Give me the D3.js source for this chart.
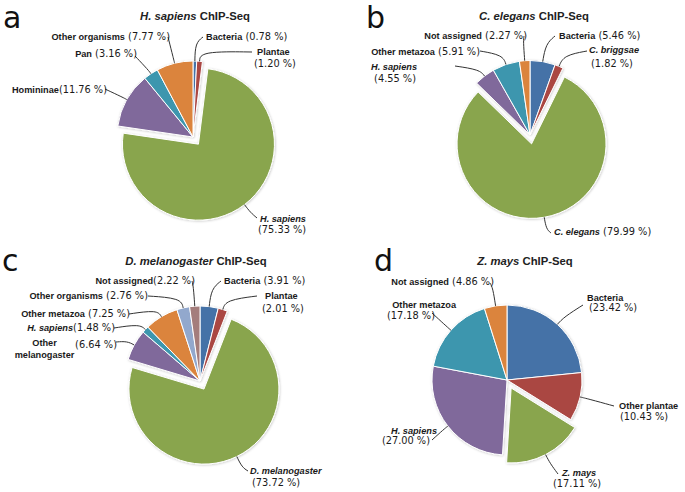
<!DOCTYPE html>
<html><head><meta charset="utf-8">
<script src="https://cdn.jsdelivr.net/npm/d3@7"></script>
<style>body{margin:0;background:#fff} svg{display:block}</style>
</head><body>
<svg id="chart" width="685" height="492"></svg>
<script>
// ---------------- data ----------------
const panelLetters = ["a", "b", "c", "d"];
const titleSpecies = ["H. sapiens", "C. elegans", "D. melanogaster", "Z. mays"];
const titleSuffix = " ChIP-Seq";

const categoriesA = ["Bacteria", "Plantae", "H. sapiens", "Homininae", "Pan", "Other organisms"];
const valuesA = [0.78, 1.20, 75.33, 11.76, 3.16, 7.77];
const italicA = [false, false, true, false, false, false];

const categoriesB = ["Bacteria", "C. briggsae", "C. elegans", "H. sapiens", "Other metazoa", "Not assigned"];
const valuesB = [5.46, 1.82, 79.99, 4.55, 5.91, 2.27];
const italicB = [false, true, true, true, false, false];

const categoriesC = ["Bacteria", "Plantae", "D. melanogaster", "Other melanogaster", "H. sapiens", "Other metazoa", "Other organisms", "Not assigned"];
const valuesC = [3.91, 2.01, 73.72, 6.64, 1.48, 7.25, 2.76, 2.22];
const italicC = [false, false, true, false, true, false, false, false];

const categoriesD = ["Bacteria", "Other plantae", "Z. mays", "H. sapiens", "Other metazoa", "Not assigned"];
const valuesD = [23.42, 10.43, 17.11, 27.00, 17.18, 4.86];
const italicD = [false, false, true, true, false, false];

const slicedIndex = [2, 2, 2, 2];

// ---------------- styles / layout ----------------
const palette = ["#4572A7", "#AA4643", "#89A54E", "#80699B", "#3D96AE", "#DB843D", "#92A8CD", "#A47D7C"];
const explode = 9;
const nameFont = "'Liberation Sans', Arial, sans-serif";
const valueFont = "'DejaVu Sans', Verdana, sans-serif";
const nameSize = 9.2, valueSize = 9.8, titleSize = 11.3, letterSize = 30;

const layouts = [
  { cx: 193, cy: 137, r: 76, title: [195, 20], letter: [3, 28],
    labels: [
      { dr: 18, end: [203, 37], lines: [{ x: 206, y: 40, t: "{n} {v}" }] },
      { dr: 10, end: [252, 52], lines: [{ x: 257, y: 55, t: "{n}" }, { x: 254, y: 67, t: "{v}" }] },
      { dr: 10, end: [257, 218], lines: [{ x: 260, y: 222, t: "{n}" }, { x: 258, y: 233, t: "{v}" }] },
      { dr: 4, end: [105, 89], lines: [{ x: 107, y: 93, a: "end", t: "{n}{v}" }] },
      { dr: 4, end: [135, 56], lines: [{ x: 137, y: 57, a: "end", t: "{n} {v}" }] },
      { dr: 4, end: [168, 37], lines: [{ x: 170, y: 40, a: "end", t: "{n} {v}" }] }
    ] },
  { cx: 530, cy: 135, r: 74.5, title: [534, 20], letter: [366, 28],
    labels: [
      { dr: 18, end: [555, 36], lines: [{ x: 559, y: 39, t: "{n} {v}" }] },
      { dr: 12, end: [587, 51], lines: [{ x: 589, y: 53, t: "{n}" }, { x: 591, y: 67, t: "{v}" }] },
      { dr: 12, end: [551, 233], lines: [{ x: 554, y: 235, t: "{n} {v}" }] },
      { dr: 8, end: [455, 66], lines: [{ x: 417, y: 70, a: "end", t: "{n}" }, { x: 416, y: 82, a: "end", t: "{v}" }] },
      { dr: 10, end: [480, 51], lines: [{ x: 480, y: 55, a: "end", t: "{n} {v}" }] },
      { dr: 20, end: [524, 36], lines: [{ x: 527, y: 39, a: "end", t: "{n} {v}" }] }
    ] },
  { cx: 200, cy: 381, r: 75, title: [196, 265], letter: [2, 271],
    labels: [
      { dr: 18, end: [221, 281], lines: [{ x: 224, y: 284, t: "{n} {v}" }] },
      { dr: 10, end: [257, 296], lines: [{ x: 265, y: 299, t: "{n}" }, { x: 262, y: 312, t: "{v}" }] },
      { dr: 12, end: [248, 471], lines: [{ x: 250, y: 474, t: "{n}" }, { x: 252, y: 486, t: "{v}" }] },
      { dr: 8, end: [116, 342], lines: [{ x: 44.5, y: 346, a: "middle", t: "{w0}" }, { x: 44.5, y: 358, a: "middle", t: "{w1}" }, { x: 117, y: 348, a: "end", t: "{v}" }] },
      { dr: 8, end: [114, 328], lines: [{ x: 115, y: 331, a: "end", t: "{n}{v}" }] },
      { dr: 8, end: [129, 314], lines: [{ x: 130, y: 317, a: "end", t: "{n} {v}" }] },
      { dr: 10, end: [148, 296], lines: [{ x: 148, y: 299, a: "end", t: "{n} {v}" }] },
      { dr: 20, end: [192, 281], lines: [{ x: 195, y: 284, a: "end", t: "{n}{v}" }] }
    ] },
  { cx: 507, cy: 380, r: 75, title: [525, 265], letter: [374, 271],
    labels: [
      { dr: 10, end: [583, 305], lines: [{ x: 587, y: 301, t: "{n}" }, { x: 589, y: 311, t: "{v}" }] },
      { dr: 8, end: [614, 406], lines: [{ x: 619, y: 409, t: "{n}" }, { x: 620, y: 420, t: "{v}" }] },
      { dr: 10, end: [558, 474], lines: [{ x: 562, y: 476, t: "{n}" }, { x: 553, y: 487, t: "{v}" }] },
      { dr: 5, end: [432, 440], lines: [{ x: 437, y: 434, a: "end", t: "{n}" }, { x: 430, y: 444, a: "end", t: "{v}" }] },
      { dr: 8, end: [432, 313], lines: [{ x: 456, y: 308, a: "end", t: "{n}" }, { x: 435, y: 319, a: "end", t: "{v}" }] },
      { dr: 18, end: [490, 283], lines: [{ x: 494, y: 285, a: "end", t: "{n} {v}" }] }
    ] }
];

const panels = [
  { cats: categoriesA, vals: valuesA, ital: italicA },
  { cats: categoriesB, vals: valuesB, ital: italicB },
  { cats: categoriesC, vals: valuesC, ital: italicC },
  { cats: categoriesD, vals: valuesD, ital: italicD }
];

// ---------------- drawing ----------------
const svg = d3.select("#chart");
svg.append("rect").attr("width", 685).attr("height", 492).attr("fill", "#fff");

const defs = svg.append("defs");
const f = defs.append("filter").attr("id", "shadow").attr("x", "-20%").attr("y", "-20%").attr("width", "140%").attr("height", "140%");
f.append("feDropShadow").attr("dx", 0.6).attr("dy", 0.6).attr("stdDeviation", 1)
  .attr("flood-color", "#000").attr("flood-opacity", 0.22);

const dir = a => [Math.sin(a), -Math.cos(a)];

panels.forEach((P, pi) => {
  const L = layouts[pi];
  const data = P.cats.map((c, j) => ({ name: c, value: P.vals[j], italic: P.ital[j], idx: j }));
  const pie = d3.pie().sort(null).value(d => d.value).startAngle(0).endAngle(2 * Math.PI);
  const arcs = pie(data);
  const arc = d3.arc().innerRadius(0).outerRadius(L.r);

  const g = svg.append("g");

  // panel letter
  g.append("text").attr("x", L.letter[0]).attr("y", L.letter[1])
    .attr("font-family", valueFont).attr("font-size", letterSize).attr("fill", "#111")
    .text(panelLetters[pi]);

  // title
  const t = g.append("text").attr("x", L.title[0]).attr("y", L.title[1])
    .attr("text-anchor", "middle").attr("font-family", nameFont).attr("font-weight", "bold")
    .attr("font-size", titleSize).attr("fill", "#222");
  t.append("tspan").attr("font-style", "italic").text(titleSpecies[pi]);
  t.append("tspan").text(titleSuffix);

  // slices
  const sg = g.append("g").attr("filter", "url(#shadow)");
  const centers = arcs.map((d, j) => {
    const mid = (d.startAngle + d.endAngle) / 2;
    const [ux, uy] = dir(mid);
    const s = j === slicedIndex[pi] ? explode : 0;
    return { mid, ux, uy, cx: L.cx + ux * s, cy: L.cy + uy * s };
  });
  sg.selectAll("path").data(arcs).join("path")
    .attr("d", arc)
    .attr("transform", (d, j) => `translate(${centers[j].cx},${centers[j].cy})`)
    .attr("fill", (d, j) => palette[j])
    .attr("stroke", "#fff").attr("stroke-width", 1).attr("stroke-linejoin", "round");

  // connectors
  const line = d3.line().curve(d3.curveBasis);
  arcs.forEach((d, j) => {
    const c = centers[j], lab = L.labels[j];
    const edge = [c.cx + c.ux * L.r, c.cy + c.uy * L.r];
    const rad = [c.cx + c.ux * (L.r + lab.dr), c.cy + c.uy * (L.r + lab.dr)];
    g.append("path").attr("d", line([edge, rad, lab.end]))
      .attr("fill", "none").attr("stroke", "#333").attr("stroke-width", 1);
  });

  // labels
  arcs.forEach((d, j) => {
    const lab = L.labels[j];
    const item = d.data;
    const words = item.name.split(" ");
    lab.lines.forEach(ln => {
      const tx = g.append("text").attr("x", ln.x).attr("y", ln.y)
        .attr("text-anchor", ln.a || "start").attr("fill", "#1a1a1a");
      ln.t.split(/(\{\w+\})/).filter(s => s.length).forEach(tok => {
        if (tok === "{n}" || tok === "{w0}" || tok === "{w1}") {
          const txt = tok === "{n}" ? item.name : words[tok === "{w0}" ? 0 : 1];
          tx.append("tspan").attr("font-family", nameFont).attr("font-weight", "bold")
            .attr("font-size", nameSize).attr("font-style", item.italic ? "italic" : "normal")
            .text(txt);
        } else if (tok === "{v}") {
          tx.append("tspan").attr("font-family", valueFont).attr("font-size", valueSize)
            .text("(" + item.value.toFixed(2) + " %)");
        } else {
          tx.append("tspan").attr("font-family", valueFont).attr("font-size", valueSize)
            .attr("xml:space", "preserve").style("white-space", "pre").text(tok);
        }
      });
    });
  });
});
</script>
</body></html>
